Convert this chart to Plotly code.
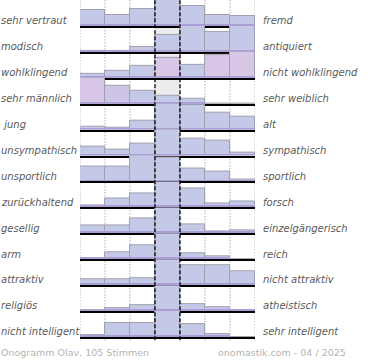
import plotly.graph_objects as go
from plotly.subplots import make_subplots

# ---- data (share of votes per scale step, in %) ----
left_labels = ["sehr vertraut", "modisch", "wohlklingend", "sehr männlich", "\u00a0jung",
               "unsympathisch", "unsportlich", "zurückhaltend", "gesellig", "arm",
               "attraktiv", "religiös", "nicht intelligent"]
right_labels = ["fremd", "antiquiert", "nicht wohlklingend", "sehr weiblich", "alt",
                "sympathisch", "sportlich", "forsch", "einzelgängerisch", "reich",
                "nicht attraktiv", "atheistisch", "sehr intelligent"]
steps = [1, 2, 3, 4, 5, 6, 7]

v_vertraut = [14.8, 9.7, 15.7, 23.5, 17.9, 9.7, 8.7]
v_modisch = [1.4, 1.4, 4.8, 17.7, 26.9, 20.7, 26.9]
v_wohlklingend = [4.1, 6.8, 10.9, 19.0, 12.5, 22.1, 24.7]
v_maennlich = [37.6, 25.8, 18.1, 11.9, 6.6, 0.0, 0.0]
v_jung = [3.4, 2.3, 9.1, 27.3, 26.7, 17.9, 13.3]
v_sympathisch = [10.6, 7.3, 13.4, 29.6, 19.1, 16.7, 3.3]
v_sportlich = [14.0, 14.0, 24.9, 23.4, 12.6, 9.8, 1.4]
v_forsch = [2.7, 11.6, 17.0, 32.5, 23.7, 4.9, 7.6]
v_gesellig = [10.8, 10.8, 20.7, 37.0, 13.3, 3.0, 4.4]
v_reich = [2.5, 12.0, 24.8, 46.3, 10.1, 4.4, 0.0]
v_attraktiv = [6.0, 6.0, 7.1, 26.1, 19.8, 20.4, 14.5]
v_religioes = [1.2, 5.3, 12.2, 55.3, 13.8, 9.2, 3.0]
v_intelligent = [3.4, 19.0, 19.0, 36.3, 18.4, 4.0, 0.0]

rows = [v_vertraut, v_modisch, v_wohlklingend, v_maennlich, v_jung, v_sympathisch,
        v_sportlich, v_forsch, v_gesellig, v_reich, v_attraktiv, v_religioes, v_intelligent]

footer_left = "Onogramm Olav, 105 Stimmen"
footer_right = "onomastik.com - 04 / 2025"

# ---- style ----
BLUE = "#c4c9e8"
PINK = "#d8c6e6"
LAVENDER = "#cdc4e6"
STRIP = "#ab9ed4"
pink_bars = {(2, 3): PINK, (2, 5): PINK, (2, 6): PINK, (3, 0): PINK, (3, 1): LAVENDER}

n = len(rows)
fig = make_subplots(rows=n, cols=1, shared_xaxes=True, vertical_spacing=0)

for i, vals in enumerate(rows):
    top = max(vals)
    strip_h = top * 2.2 / 24
    colors = [pink_bars.get((i, j), BLUE) for j in range(len(vals))]
    fig.add_trace(go.Bar(x=steps, y=vals, marker=dict(color=colors, line=dict(color="#a0a0ae", width=1)),
                         width=1, hoverinfo="skip", showlegend=False), row=i + 1, col=1)
    fig.add_trace(go.Bar(x=steps, y=[min(v, strip_h) for v in vals],
                         marker=dict(color=STRIP, line=dict(width=0)),
                         width=1, hoverinfo="skip", showlegend=False), row=i + 1, col=1)
    fig.update_yaxes(range=[0, top], showgrid=False, zeroline=False, showticklabels=False,
                     ticks="", fixedrange=True, row=i + 1, col=1)
    fig.update_xaxes(range=[0.5, 7.5], showgrid=False, zeroline=False, showticklabels=False,
                     ticks="", showline=True, linecolor="#000000", linewidth=2,
                     row=i + 1, col=1)
    yref = "y domain" if i == 0 else f"y{i + 1} domain"
    fig.add_annotation(text=left_labels[i], xref="paper", yref=yref, x=-81 / 175, y=0.2,
                       xanchor="left", yanchor="middle", showarrow=False,
                       font=dict(family="DejaVu Sans", size=10, color="#5a5a5a", style="italic"))
    fig.add_annotation(text=right_labels[i], xref="paper", yref=yref, x=1.035, y=0.2,
                       xanchor="left", yanchor="middle", showarrow=False,
                       font=dict(family="DejaVu Sans", size=10, color="#5a5a5a", style="italic"))

fig.update_layout(barmode="overlay", bargap=0)

# centre column background
fig.add_shape(type="rect", xref="x", yref="paper", x0=3.5, x1=4.5, y0=0, y1=1,
              fillcolor="#ececec", line=dict(width=0), layer="below")
# dotted guides
for xv in [0.5, 1.5, 2.5, 5.5, 6.5, 7.5]:
    fig.add_shape(type="line", xref="x", yref="paper", x0=xv, x1=xv, y0=-0.01, y1=1,
                  line=dict(color="#888888", width=1, dash="1px,2px"), layer="below")
# dashed centre guides
for xv in [3.5, 4.5]:
    fig.add_shape(type="line", xref="x", yref="paper", x0=xv, x1=xv, y0=-0.01, y1=1,
                  line=dict(color="#000000", width=1.3, dash="4px,2px"), layer="above")

fig.add_annotation(text=footer_left, xref="paper", yref="paper", x=-81 / 175, y=0, yshift=-15,
                   xanchor="left", yanchor="middle", showarrow=False,
                   font=dict(family="DejaVu Sans", size=9.5, color="#b4b4b4"))
fig.add_annotation(text=footer_right, xref="paper", yref="paper", x=(348 - 80) / 175, y=0, yshift=-15,
                   xanchor="right", yanchor="middle", showarrow=False,
                   font=dict(family="DejaVu Sans", size=9.5, color="#b4b4b4"))

fig.update_layout(width=370, height=360, margin=dict(l=80, r=115, t=0, b=23),
                  paper_bgcolor="white", plot_bgcolor="rgba(0,0,0,0)")

fig.write_html("out.html", config={"displayModeBar": False},
               post_script="document.body.style.margin='0';")
